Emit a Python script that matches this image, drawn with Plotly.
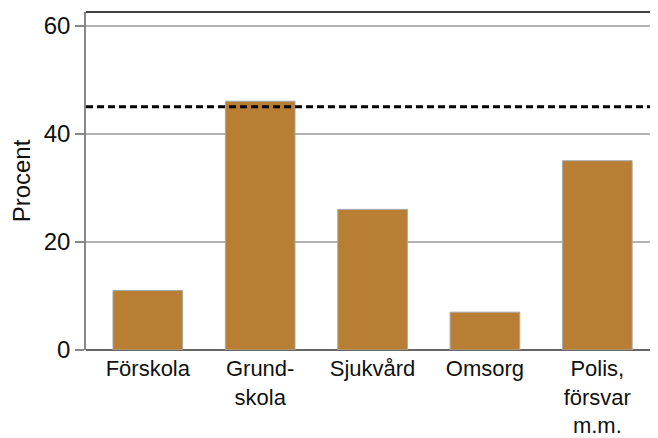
import plotly.graph_objects as go

categories = ["Förskola", "Grund-<br>skola", "Sjukvård", "Omsorg", "Polis,<br>försvar<br>m.m."]
values = [11, 46, 26, 7, 35]
reference_level = 45
y_ticks = [0, 20, 40, 60]

FONT = "Liberation Sans, Arial, Helvetica, sans-serif"

fig = go.Figure()
fig.add_trace(go.Bar(
    x=list(range(len(categories))), y=values,
    marker=dict(color="#b87e33", line=dict(color="#a9a9a9", width=1)),
    width=0.62,
))

fig.add_shape(type="line", xref="paper", yref="y", x0=0, x1=1,
              y0=reference_level, y1=reference_level,
              line=dict(color="black", width=3, dash="7px,4px"))
fig.add_shape(type="line", xref="paper", yref="paper", x0=0, x1=1, y0=1, y1=1,
              line=dict(color="black", width=1.5))

# page body has an 8px margin, so the figure is sized to fit the 658x438 window
fig.update_layout(
    width=650, height=430,
    margin=dict(l=78, r=0, t=4, b=88),
    paper_bgcolor="white", plot_bgcolor="white",
    showlegend=False,
    font=dict(family=FONT, size=22, color="#111"),
    xaxis=dict(
        range=[-0.55, 4.54], automargin=False,
        tickmode="array", tickvals=list(range(len(categories))), ticktext=categories,
        showgrid=False, zeroline=False, showline=False, ticks="",
        tickfont=dict(size=22), ticklabelstandoff=3,
    ),
    yaxis=dict(
        range=[0, 62.5], automargin=False,
        tickmode="array", tickvals=y_ticks,
        showgrid=True, gridcolor="#b3b3b3", gridwidth=1.5,
        zeroline=True, zerolinecolor="#666", zerolinewidth=1.5,
        showline=True, linecolor="#888", linewidth=1.5,
        ticks="outside", ticklen=9, tickcolor="#888", tickwidth=1.5,
        tickfont=dict(size=24),
        title=dict(text="Procent", font=dict(size=24), standoff=6),
    ),
    bargap=0.38,
)

fig.write_html("out.html")
